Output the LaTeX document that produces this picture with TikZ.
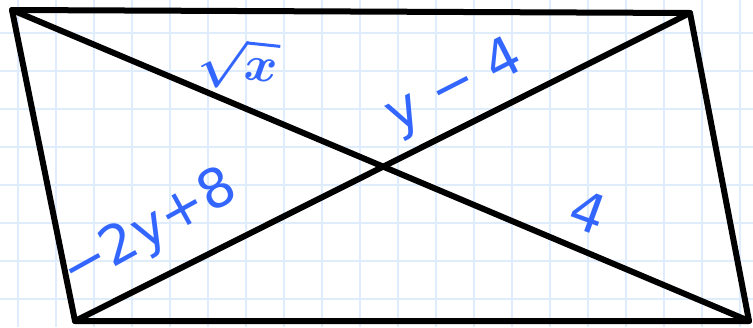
\documentclass[tikz,border=0pt]{standalone}
\usepackage{fontspec}
\setmainfont{DejaVu Sans}
\newlength{\du}
\setlength{\du}{0.5pt}
\definecolor{gridcolor}{rgb}{0.870000, 0.925000, 0.985000}
\definecolor{inkcolor}{rgb}{0.200000, 0.400000, 1.000000}
\tikzset{
  gridline/.style={draw=gridcolor, line width=2\du},
  side/.style={draw=black, line width=6\du, line cap=round, line join=round},
  ink/.style={text=inkcolor, inner sep=0pt, outer sep=0pt, font=\fontsize{27}{32}\selectfont},
}

\begin{document}
\begin{tikzpicture}
\pgftransformxscale{1.000000}
\pgftransformyscale{-1.000000}
\useasboundingbox (0\du,0\du) rectangle (753\du,327\du);
% grid paper
\foreach \gx in {18,56,...,750}
  \draw[gridline] (\gx\du,0\du)--(\gx\du,327\du);
\foreach \gy in {33,71,...,327}
  \draw[gridline] (0\du,\gy\du)--(753\du,\gy\du);
% corners
\coordinate (tl) at (12\du,10\du);
\coordinate (tr) at (690\du,13\du);
\coordinate (br) at (749\du,321\du);
\coordinate (bl) at (75\du,321\du);
% parallelogram and diagonals
\draw[side] (tl)--(tr)--(br)--(bl)--cycle;
\draw[side] (tl)--(br);
\draw[side] (tr)--(bl);
% labels
\node[ink, rotate=-6, font=\fontsize{42}{48}\selectfont\boldmath] (sqrtx) at (238\du,64\du) {$\sqrt{x}$};
\node[ink, rotate=27] (upper) at (455\du,88\du) {y − 4};
\node[ink, rotate=29] (lower) at (150\du,231\du) {−2y+8};
\node[ink, rotate=-20] (four) at (588\du,212\du) {4};
\end{tikzpicture}
\end{document}
